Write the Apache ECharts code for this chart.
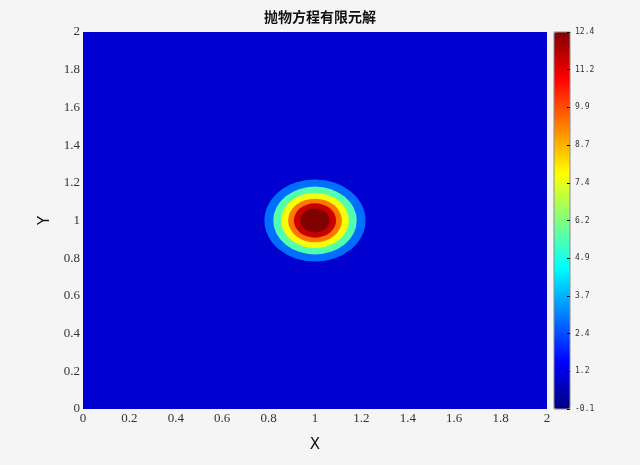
<!DOCTYPE html>
<html><head><meta charset="utf-8">
<script src="https://cdn.jsdelivr.net/npm/echarts@6/dist/echarts.min.js"></script>
<style>html,body{margin:0;padding:0;background:#f5f5f5}#c{width:640px;height:465px}</style>
</head><body><div id="c"></div>
<script>
// ---- data ----
const titleText = '抛物方程有限元解';
const xAxisName = 'X';
const yAxisName = 'Y';
const xTickLabels = ['0','0.2','0.4','0.6','0.8','1','1.2','1.4','1.6','1.8','2'];
const yTickLabels = ['0','0.2','0.4','0.6','0.8','1','1.2','1.4','1.6','1.8','2'];
const colorbarLabels = ['-0.1','1.2','2.4','3.7','4.9','6.2','7.4','8.7','9.9','11.2','12.4'];
const valueMin = -0.1;
const valueMax = 12.4;
const domainX = [0, 2];
const domainY = [0, 2];
const backgroundLevel = 0.9;          // value of the outer (blue) contour band
const peakCenter = [1, 1];            // centre of the bump
const ringRadii = [0.218, 0.180, 0.146, 0.116, 0.091, 0.063];   // band boundaries, outer -> inner
const ringLevels = [2.8, 5.6, 7.6, 9.4, 11.5, 12.4];           // band values, outer -> inner
const jetColors = ['#000080','#0000ff','#0080ff','#00ffff','#80ff80','#ffff00','#ff8000','#ff0000','#800000'];

// ---- build series data ----
const bgData = [[backgroundLevel, domainX[0], domainX[1], domainY[0], domainY[1]]];
const ringData = ringRadii.map((r, i) => [ringLevels[i], peakCenter[0], peakCenter[1], r, r]);

const chart = echarts.init(document.getElementById('c'), null, {renderer: 'canvas'});
const serif = 'Liberation Serif';
chart.setOption({
  backgroundColor: '#f5f5f5',
  animation: false,
  title: {
    text: titleText, left: 315, top: 5, textAlign: 'center',
    textStyle: {fontSize: 14, fontWeight: 'bold', color: '#111', fontFamily: 'Noto Sans CJK SC'}
  },
  grid: [
    {left: 83, top: 32, width: 464, height: 377, show: false},
    {left: 554, top: 32, width: 16, height: 377, show: true, borderColor: '#8c8c8c', borderWidth: 1,
     backgroundColor: 'transparent', z: 5}
  ],
  xAxis: [
    {type: 'value', gridIndex: 0, min: domainX[0], max: domainX[1], interval: 0.2,
     splitLine: {show: false}, axisTick: {show: false}, axisLine: {show: false, onZero: false},
     axisLabel: {formatter: v => xTickLabels[Math.round(v / 0.2)], margin: 3, fontFamily: serif, fontSize: 13, color: '#333'},
     name: xAxisName, nameLocation: 'middle', nameGap: 29,
     nameTextStyle: {fontFamily: 'DejaVu Sans', fontSize: 15, color: '#111'}},
    {type: 'value', gridIndex: 1, min: 0, max: 1, show: false, axisLine: {onZero: false}}
  ],
  yAxis: [
    {type: 'value', gridIndex: 0, min: domainY[0], max: domainY[1], interval: 0.2,
     splitLine: {show: false}, axisTick: {show: false}, axisLine: {show: false, onZero: false},
     axisLabel: {formatter: v => yTickLabels[Math.round(v / 0.2)], margin: 3, fontFamily: serif, fontSize: 13, color: '#333'},
     name: yAxisName, nameLocation: 'middle', nameGap: 29, nameRotate: 90,
     nameTextStyle: {fontFamily: 'DejaVu Sans', fontSize: 15, color: '#111'}},
    {type: 'value', gridIndex: 1, position: 'right', min: 0, max: colorbarLabels.length - 1, interval: 1, z: 10,
     splitLine: {show: false}, axisLine: {show: false, onZero: false},
     axisTick: {show: true, inside: true, length: 3, lineStyle: {color: '#000', width: 1}},
     axisLabel: {formatter: v => colorbarLabels[Math.round(v)], margin: 5, fontFamily: 'DejaVu Sans Mono', fontSize: 8, color: '#333'}}
  ],
  visualMap: {
    type: 'continuous', min: valueMin, max: valueMax, dimension: 0, seriesIndex: [0, 1],
    inRange: {color: jetColors}, calculable: false, orient: 'vertical',
    left: 554, top: 32, itemWidth: 16, itemHeight: 377, padding: 0, hoverLink: false, text: null,
    showLabel: false
  },
  series: [
    {type: 'custom', xAxisIndex: 0, yAxisIndex: 0, clip: true, data: bgData,
     encode: {x: [1, 2], y: [3, 4]},
     renderItem(params, api) {
       const p0 = api.coord([api.value(1), api.value(4)]);
       const p1 = api.coord([api.value(2), api.value(3)]);
       return {type: 'rect', shape: {x: p0[0], y: p0[1], width: p1[0] - p0[0], height: p1[1] - p0[1]},
               style: {fill: api.visual('color')}};
     }},
    {type: 'custom', xAxisIndex: 0, yAxisIndex: 0, clip: true, data: ringData,
     encode: {x: [1], y: [2]},
     renderItem(params, api) {
       const c = api.coord([api.value(1), api.value(2)]);
       const rx = api.size([api.value(3), 0])[0];
       const ry = api.size([0, api.value(4)])[1];
       return {type: 'circle', x: c[0], y: c[1], scaleX: 1, scaleY: ry / rx,
               shape: {cx: 0, cy: 0, r: rx}, style: {fill: api.visual('color')}};
     }}
  ]
});
</script></body></html>
